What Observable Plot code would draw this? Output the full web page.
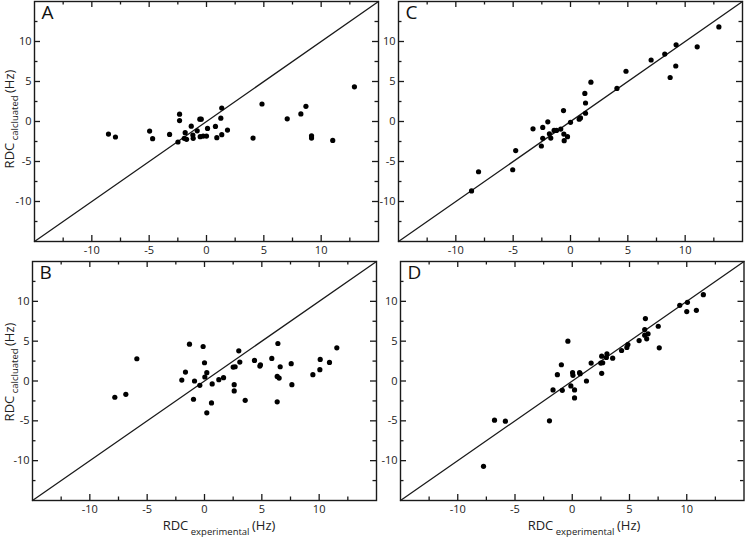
<!DOCTYPE html>
<html><head><meta charset="utf-8">
<script src="https://cdn.jsdelivr.net/npm/d3@7"></script>
<script src="https://cdn.jsdelivr.net/npm/@observablehq/plot@0.6"></script>
<style>
body{margin:0;background:#fff;}
#wrap{position:relative;width:745px;height:538px;overflow:hidden;font-family:"Open Sans",sans-serif;}
#wrap > svg{position:absolute;}
</style></head><body><div id="wrap"></div>
<script>
// Panel A
const aX = [-8.55,-7.94,-4.96,-4.70,-3.22,-2.49,-2.35,-2.35,-1.94,-1.86,-1.74,-1.33,-1.19,-1.16,-0.81,-0.58,-0.46,-0.55,-0.29,0.0,0.09,0.78,0.90,1.25,1.33,1.33,1.83,4.06,4.84,7.04,8.23,8.67,9.16,9.16,11.01,12.9];
const aY = [-1.57,-1.94,-1.2,-2.15,-1.61,-2.56,0.91,0.12,-2.1,-1.4,-2.23,-0.58,-1.69,-2.1,-1.16,0.29,0.29,-1.9,-1.82,-1.82,-0.87,-0.62,-2.02,0.41,1.69,-1.65,-1.07,-2.07,2.19,0.33,0.95,1.9,-1.78,-2.07,-2.36,4.34];
// Panel B
const bX = [-7.82,-6.86,-5.90,-1.98,-1.66,-1.31,-0.96,-0.87,-0.41,-0.12,0.0,0.03,0.2,0.2,0.61,0.67,1.25,1.66,2.5,2.67,2.59,2.59,2.99,3.08,3.55,4.36,4.83,4.88,5.87,6.40,6.34,6.51,6.34,6.6,7.56,7.62,9.45,10.09,10.06,10.9,11.54];
const bY = [-2.04,-1.67,2.79,0.12,1.12,4.62,-2.29,0.0,-0.54,4.33,2.29,0.5,1.04,-4.0,-2.75,-0.37,0.17,0.42,1.75,1.79,-0.46,-1.25,3.79,2.37,-2.42,2.58,1.87,2.04,2.83,4.71,0.58,0.37,-2.62,1.79,2.17,-0.46,0.79,2.71,1.42,2.33,4.17];
// Panel C
const cX = [-8.63,-8.02,-5.04,-4.78,-3.27,-2.54,-2.42,-2.42,-1.98,-1.84,-1.72,-1.43,-1.22,-0.85,-0.61,-0.58,-0.55,-0.26,0.0,0.76,0.87,1.25,1.31,1.31,1.78,4.05,4.84,7.03,8.22,8.69,9.18,9.21,11.05,12.94];
const cY = [-8.68,-6.28,-6.03,-3.64,-0.91,-3.06,-0.74,-2.1,-0.04,-1.53,-2.07,-1.12,-1.12,-0.95,1.36,-1.57,-2.4,-1.9,-0.1,0.29,0.45,3.51,2.31,1.03,4.92,4.13,6.28,7.69,8.43,5.5,6.94,9.59,9.34,11.82];
// Panel D
const dX = [-7.75,-6.79,-5.84,-1.99,-1.68,-1.30,-0.95,-0.87,-0.38,-0.12,0.03,0.06,0.2,0.2,0.64,0.69,1.24,1.65,2.57,2.49,2.66,2.57,3.03,2.98,3.53,4.31,4.77,4.86,5.84,6.33,6.39,6.33,6.5,6.62,7.51,7.6,9.39,10.06,10.0,10.84,11.45];
const dY = [-10.71,-4.92,-5.04,-5.0,-1.12,0.79,2.04,-1.17,5.0,-0.62,1.04,0.71,-1.12,-2.12,1.04,0.92,0.0,2.25,3.12,2.25,2.29,0.96,3.42,2.96,2.87,3.83,4.21,4.58,5.08,6.46,7.83,5.75,5.29,5.92,6.87,4.17,9.5,9.87,8.71,8.87,10.83];

const domain = [-15, 15];
const majorTicks = [-10, -5, 0, 5, 10];
const minorTicks = [-12.5, -7.5, -2.5, 2.5, 7.5, 12.5];
const letters = ["A", "B", "C", "D"];
const yTitleMain = "RDC", yTitleSub = "calcluated", xTitleSub = "experimental", unit = "(Hz)";

const ink = "#1a1a1a";
const wrap = document.getElementById("wrap");

function panel({xs, ys, letter, left, top, width, height, ml, mr, mt, mb}) {
  const iw = width - ml - mr, ih = height - mt - mb;
  const pts = xs.map((x, i) => ({x, y: ys[i]}));
  const tickMarks = (vals, len) => [
    Plot.tickX(vals, {x: d => d, insetTop: ih - len, stroke: ink, strokeWidth: 1.3}),
    Plot.tickX(vals, {x: d => d, insetBottom: ih - len, stroke: ink, strokeWidth: 1.3}),
    Plot.tickY(vals, {y: d => d, insetRight: iw - len, stroke: ink, strokeWidth: 1.3}),
    Plot.tickY(vals, {y: d => d, insetLeft: iw - len, stroke: ink, strokeWidth: 1.3})
  ];
  const plot = Plot.plot({
    width, height, marginLeft: ml, marginRight: mr, marginTop: mt, marginBottom: mb,
    x: {domain, label: null},
    y: {domain, label: null},
    style: {background: "transparent", overflow: "visible", fontFamily: "'Open Sans', sans-serif", fontSize: "11px", color: "#222"},
    marks: [
      Plot.line(domain, {x: d => d, y: d => d, stroke: ink, strokeWidth: 1.3}),
      ...tickMarks(majorTicks, 6),
      ...tickMarks(minorTicks, 3.5),
      Plot.dot(pts, {x: "x", y: "y", r: 2.6, fill: "#000", stroke: null}),
      Plot.frame({stroke: ink, strokeWidth: 1.4}),
      Plot.axisX({ticks: majorTicks, tickSize: 0, tickPadding: 5, tickFormat: d => String(d), label: null}),
      Plot.axisY({ticks: majorTicks, tickSize: 0, tickPadding: 3, tickFormat: d => String(d), label: null}),
      Plot.text([letter], {frameAnchor: "top-left", text: d => d, dx: 7, dy: 4, lineAnchor: "top", textAnchor: "start", fontSize: 19, fill: "#111"})
    ]
  });
  plot.style.left = left + "px";
  plot.style.top = top + "px";
  wrap.append(plot);
}

panel({xs: aX, ys: aY, letter: letters[0], left: 0, top: 0, width: 380, height: 270, ml: 34, mr: 2, mt: 1, mb: 29});
panel({xs: cX, ys: cY, letter: letters[2], left: 370, top: 0, width: 375, height: 270, ml: 28, mr: 3, mt: 1, mb: 29});
panel({xs: bX, ys: bY, letter: letters[1], left: 0, top: 255, width: 380, height: 283, ml: 32, mr: 4, mt: 6, mb: 38});
panel({xs: dX, ys: dY, letter: letters[3], left: 370, top: 255, width: 375, height: 283, ml: 30, mr: 1.5, mt: 6, mb: 38});

// Axis titles with subscripts
const ov = d3.select("#wrap").append("svg")
  .attr("width", 745).attr("height", 538)
  .style("left", "0px").style("top", "0px").style("pointer-events", "none")
  .style("font-family", "'Open Sans', sans-serif").style("fill", "#222");

function title(transform, sub) {
  const t = ov.append("text").attr("transform", transform)
    .attr("text-anchor", "middle").style("font-size", "13px");
  t.append("tspan").text(yTitleMain);
  t.append("tspan").style("font-size", "9.5px").attr("dy", 4.5).text(" " + sub + " ");
  t.append("tspan").attr("dy", -4.5).text(unit);
}
title("translate(13.5,119) rotate(-90)", yTitleSub);
title("translate(13.5,372) rotate(-90)", yTitleSub);
title("translate(219,530)", xTitleSub);
title("translate(584,530)", xTitleSub);
</script>
</body></html>
